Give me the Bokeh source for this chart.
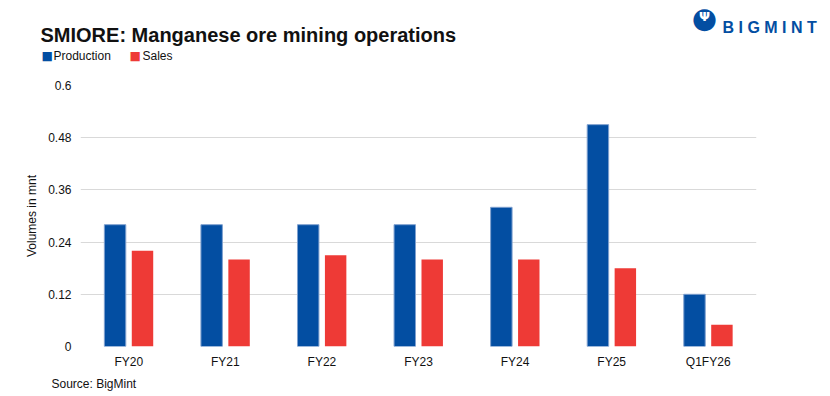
from bokeh.plotting import figure
from bokeh.models import ColumnDataSource, FactorRange, FixedTicker, Label
from bokeh.transform import dodge
from bokeh.embed import file_html
from bokeh.resources import INLINE

categories = ["FY20", "FY21", "FY22", "FY23", "FY24", "FY25", "Q1FY26"]
production = [0.28, 0.28, 0.28, 0.28, 0.32, 0.51, 0.12]
sales = [0.22, 0.20, 0.21, 0.20, 0.20, 0.18, 0.05]
y_ticks = [0, 0.12, 0.24, 0.36, 0.48, 0.6]
y_tick_labels = ["0", "0.12", "0.24", "0.36", "0.48", "0.6"]

BLUE = "#034EA2"
RED = "#EE3A36"
FONT = "Liberation Sans"
W, H = 830, 396
FL, FR, FT, FB = 80, 756, 85, 346  # frame edges in page pixels
Y0, Y1 = 0, 0.6

src = ColumnDataSource(dict(cat=categories, prod=production, sales=sales))

p = figure(width=W, height=H, x_range=FactorRange(*categories, range_padding=0),
           y_range=(Y0, Y1), output_backend="svg", toolbar_location=None,
           min_border_left=FL, min_border_right=W - FR, min_border_top=FT,
           min_border_bottom=H - FB)
p.outline_line_color = None

p.vbar(x=dodge("cat", -0.142, range=p.x_range), top="prod", width=0.222, source=src,
       fill_color=BLUE, line_color="#7FA0CF", line_width=1)
p.vbar(x=dodge("cat", 0.142, range=p.x_range), top="sales", width=0.222, source=src,
       fill_color=RED, line_color=None)

p.xgrid.grid_line_color = None
p.ygrid.grid_line_color = "#D9D9D9"
p.ygrid.grid_line_width = 1

p.yaxis.ticker = FixedTicker(ticks=y_ticks)
p.yaxis.major_label_overrides = {t: l for t, l in zip(y_ticks, y_tick_labels)}
for ax in (p.xaxis[0], p.yaxis[0]):
    ax.axis_line_color = None
    ax.major_tick_line_color = None
    ax.minor_tick_line_color = None
    ax.major_tick_out = 0
    ax.major_tick_in = 0
    ax.minor_tick_out = 0
    ax.major_label_text_font = FONT
    ax.major_label_text_font_size = "12px"
    ax.major_label_text_color = "#111111"
p.yaxis.major_label_standoff = 9
p.xaxis.major_label_standoff = 8
p.yaxis.axis_label = "Volumes in mnt"
p.yaxis.axis_label_text_font = FONT
p.yaxis.axis_label_text_font_size = "12px"
p.yaxis.axis_label_text_font_style = "normal"
p.yaxis.axis_label_text_color = "#111111"
p.yaxis.axis_label_standoff = 6

XS = (FR - FL) / len(categories)   # pixels per category
YS = (FB - FT) / (Y1 - Y0)         # pixels per value unit


def lab(x, y, text, place, size="12px", color="#111111", style="normal", font=FONT,
        align="left", baseline="alphabetic"):
    # x, y are page pixels, converted to the plot's own coordinates
    p.add_layout(Label(x=(x - FL) / XS, y=Y0 + (FB - y) / YS, text=text, text_font=font,
                       text_font_size=size, text_color=color, text_font_style=style,
                       text_align=align, text_baseline=baseline), place)


lab(40, 34, "SMIORE: Manganese ore mining operations", "above", size="20px", style="bold")
lab(53, 55, "Production", "above")
lab(142, 55, "Sales", "above")
lab(722, 27, "B I G M I N T", "above", size="16px", color=BLUE, style="bold")
lab(41, 55, "\u25A0", "left", size="12px", color=BLUE, font="DejaVu Sans")
lab(129, 55, "\u25A0", "left", size="12px", color=RED, font="DejaVu Sans")
lab(704, 0.5, "\u25CF", "right", size="29px", color=BLUE, font="DejaVu Sans",
    align="center", baseline="top")
lab(704, 16, "\u03A8", "right", size="13px", color="white", font="DejaVu Sans",
    style="bold", align="center", baseline="middle")
lab(51, 383, "Source: BigMint", "below")

open("out.html", "w").write(file_html(p, INLINE))
